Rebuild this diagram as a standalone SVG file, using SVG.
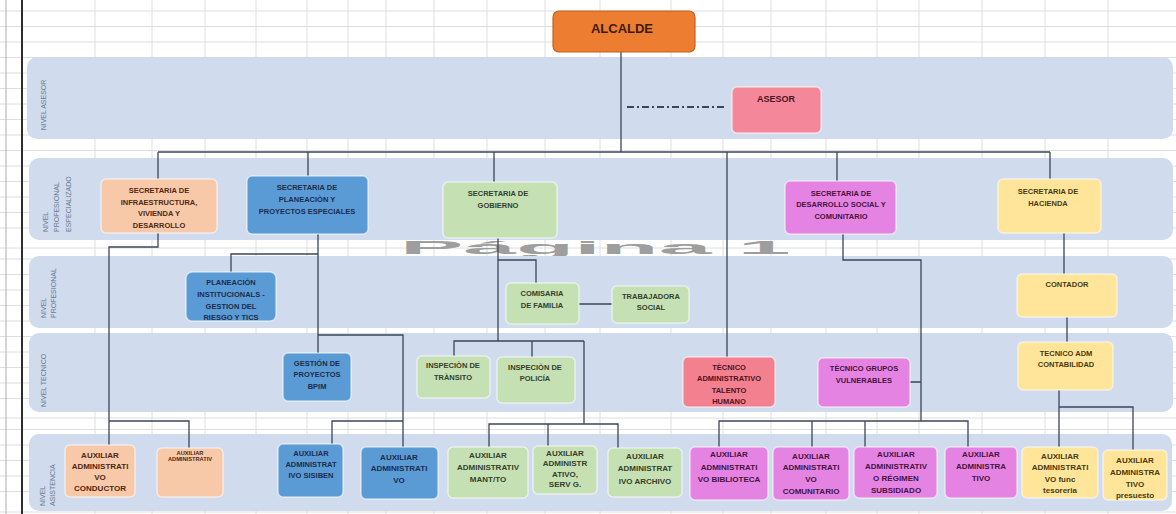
<svg xmlns="http://www.w3.org/2000/svg" width="1176" height="514" viewBox="0 0 1176 514">
<style>
.grid{stroke:#dedede;stroke-width:1;fill:none}
.band{fill:#D0DCED}
.lbl{font-family:"Liberation Sans",Arial,sans-serif;font-size:7px;fill:#6b7a92}
.box{stroke:#ffffff;stroke-opacity:.55;stroke-width:1.5}
.t{font-family:"Liberation Sans",Arial,sans-serif;font-weight:bold;text-anchor:middle}
.s75{font-size:7.5px}
.s8{font-size:8px}
.conn{fill:none;stroke:#3c4659;stroke-width:1.3}
.f-peach{fill:#F8C9A9}.c-peach{fill:#4d2812}
.f-blue{fill:#5B9BD5}.c-blue{fill:#1b2c4c}
.f-green{fill:#C5E0B3}.c-green{fill:#34402c}
.f-mag{fill:#E583E3}.c-mag{fill:#45133f}
.f-yel{fill:#FFE599}.c-yel{fill:#4b3a10}
.f-rose{fill:#F4889A}.c-rose{fill:#4d1422}
</style>
<defs>
<clipPath id="gap"><rect x="380" y="240" width="420" height="16"/></clipPath>
</defs>
<rect width="1176" height="514" fill="#ffffff"/>
<g id="grid">
<path class="grid" d="M0 11H1176M0 26.5H1176M0 42H1176M0 57.5H1176M0 73H1176M0 88.5H1176M0 104H1176M0 119.5H1176M0 135H1176M0 150.5H1176M0 166H1176M0 181.5H1176M0 197H1176M0 212.5H1176M0 228H1176M0 248H1176M0 259H1176M0 274.5H1176M0 290H1176M0 305.5H1176M0 321H1176M0 336.5H1176M0 352H1176M0 367.5H1176M0 383H1176M0 398.5H1176M0 418H1176M0 429.5H1176M0 445H1176M0 460.5H1176M0 476H1176M0 491.5H1176M0 512H1176"/>
<path class="grid" d="M95 0V514M152 0V514M205 0V514M256 0V514M307 0V514M348 0V514M386 0V514M434 0V514M487 0V514M545 0V514M600 0V514M671 0V514M723 0V514M771 0V514M826 0V514M877 0V514M919 0V514M982 0V514M1045 0V514M1108 0V514"/>
<path d="M6 0V514" stroke="#bdbdbd" stroke-width="1.2"/>
<path d="M22 0V514" stroke="#2e2e2e" stroke-width="2"/>
</g>
<g id="watermark" clip-path="url(#gap)">
<text transform="translate(400,254) scale(1,0.2)" x="0" y="0" font-family="Liberation Sans, Arial, sans-serif" font-weight="bold" font-size="95" fill="#9e9e9e">Página 1</text>
</g>
<g id="bands">
<rect class="band" x="27" y="57" width="1146" height="82" rx="10"/>
<rect class="band" x="29" y="158" width="1144" height="82" rx="10"/>
<rect class="band" x="29" y="256" width="1144" height="72" rx="10"/>
<rect class="band" x="29" y="333" width="1144" height="79" rx="10"/>
<rect class="band" x="29" y="434" width="1143" height="77" rx="10"/>
<text class="lbl" x="46" y="105" text-anchor="middle" transform="rotate(-90 46 105)">NIVEL ASESOR</text>
<text class="lbl" x="47.5" y="232" transform="rotate(-90 47.5 232)">NIVEL</text>
<text class="lbl" x="59" y="232" transform="rotate(-90 59 232)">PROFESIONAL</text>
<text class="lbl" x="70.5" y="232" transform="rotate(-90 70.5 232)">ESPECIALIZADO</text>
<text class="lbl" x="45.5" y="318" transform="rotate(-90 45.5 318)">NIVEL</text>
<text class="lbl" x="55.5" y="318" transform="rotate(-90 55.5 318)">PROFESIONAL</text>
<text class="lbl" x="45.5" y="407" transform="rotate(-90 45.5 407)">NIVEL TECNICO</text>
<text class="lbl" x="44.5" y="506" transform="rotate(-90 44.5 506)">NIVEL</text>
<text class="lbl" x="54.5" y="506" transform="rotate(-90 54.5 506)">ASISTENCIA</text>
</g>
<g id="connectors">
<path class="conn" d="M621 52V152M158 152H1050M158 152V179M308 152V176M494 152V182M727 152V357M837 152V181M1050 152V179"/>
<path d="M627 107H726" fill="none" stroke="#3c4659" stroke-width="2.2" stroke-dasharray="7 3 2 3"/>
<path class="conn" d="M158 233V247H109V445M109 421H189V448"/>
<path class="conn" d="M318 234V353M231 272V254H318M318 335H403V447M332 444V421H403"/>
<path class="conn" d="M498 238V341M498 260H536V283M579 304H612M454 356V341H584M532 341V357M584 341V424M489 447V424H618V448M548 424V446"/>
<path class="conn" d="M843 234V260H921V421M910 382H921M719 447V421H968V447M812 421V447M865 421V447"/>
<path class="conn" d="M1064 233V274M1067 317V342M1059 390V447M1059 407H1133V450"/>
</g>
<g id="alcalde"><rect x="553" y="11" width="142" height="41" rx="6" fill="#ED7D31" stroke="#C0641F" stroke-width="1.2"/><text class="t" x="622" y="32.5" font-size="13" fill="#3a1c0a">ALCALDE</text></g>
<g id="asesor"><rect class="box f-rose" x="732" y="87" width="89" height="46" rx="5"/><text class="t c-rose" x="776" y="102" font-size="9">ASESOR</text></g>
<g id="sec-infraestructura"><rect class="box f-peach" x="101" y="179" width="116" height="54" rx="5"/><text class="t s75 c-peach"><tspan x="159" y="193">SECRETARIA DE</tspan><tspan x="159" y="205">INFRAESTRUCTURA,</tspan><tspan x="159" y="216">VIVIENDA Y</tspan><tspan x="159" y="228">DESARROLLO</tspan></text></g>
<g id="sec-planeacion"><rect class="box f-blue" x="247" y="176" width="121" height="58" rx="5"/><text class="t s75 c-blue"><tspan x="307" y="190">SECRETARIA DE</tspan><tspan x="307" y="202">PLANEACIÒN Y</tspan><tspan x="307" y="214">PROYECTOS ESPECIALES</tspan></text></g>
<g id="sec-gobierno"><rect class="box f-green" x="443" y="182" width="114" height="56" rx="5"/><text class="t s75 c-green"><tspan x="498" y="196">SECRETARIA DE</tspan><tspan x="498" y="208">GOBIERNO</tspan></text></g>
<g id="sec-desarrollo"><rect class="box f-mag" x="785" y="181" width="111" height="53" rx="5"/><text class="t s75 c-mag"><tspan x="841" y="196">SECRETARIA DE</tspan><tspan x="841" y="207">DESARROLLO SOCIAL Y</tspan><tspan x="841" y="219">COMUNITARIO</tspan></text></g>
<g id="sec-hacienda"><rect class="box f-yel" x="998" y="179" width="103" height="54" rx="5"/><text class="t s75 c-yel"><tspan x="1048" y="194">SECRETARIA DE</tspan><tspan x="1048" y="206">HACIENDA</tspan></text></g>
<g id="planeacion-inst"><rect class="box f-blue" x="186" y="272" width="90" height="49" rx="6"/><text class="t s75 c-blue"><tspan x="231" y="285">PLANEACIÒN</tspan><tspan x="231" y="297">INSTITUCIONALS -</tspan><tspan x="231" y="309">GESTION DEL</tspan><tspan x="231" y="320">RIESGO Y TICS</tspan></text></g>
<g id="comisaria"><rect class="box f-green" x="506" y="283" width="73" height="41" rx="5"/><text class="t s75 c-green"><tspan x="542" y="296">COMISARIA</tspan><tspan x="542" y="308">DE FAMILIA</tspan></text></g>
<g id="trabajadora"><rect class="box f-green" x="612" y="286" width="77" height="37" rx="5"/><text class="t s75 c-green"><tspan x="651" y="299">TRABAJADORA</tspan><tspan x="651" y="310">SOCIAL</tspan></text></g>
<g id="contador"><rect class="box f-yel" x="1017" y="274" width="100" height="43" rx="5"/><text class="t s75 c-yel" x="1067" y="287">CONTADOR</text></g>
<g id="gestion-proyectos"><rect class="box f-blue" x="283" y="353" width="68" height="48" rx="5"/><text class="t s75 c-blue"><tspan x="317" y="366">GESTIÓN DE</tspan><tspan x="317" y="377">PROYECTOS</tspan><tspan x="317" y="389">BPIM</tspan></text></g>
<g id="inspeccion-transito"><rect class="box f-green" x="417" y="356" width="73" height="42" rx="5"/><text class="t s75 c-green"><tspan x="453" y="368">INSPECIÒN DE</tspan><tspan x="453" y="380">TRÀNSITO</tspan></text></g>
<g id="inspeccion-policia"><rect class="box f-green" x="497" y="357" width="78" height="46" rx="5"/><text class="t s75 c-green"><tspan x="535" y="370">INSPECIÒN DE</tspan><tspan x="535" y="381">POLICÍA</tspan></text></g>
<g id="tecnico-talento"><rect class="box" fill="#F2808F" x="683" y="357" width="92" height="50" rx="5"/><text class="t s75 c-rose"><tspan x="729" y="370">TÈCNICO</tspan><tspan x="729" y="381">ADMINISTRATIVO</tspan><tspan x="729" y="393">TALENTO</tspan><tspan x="729" y="404">HUMANO</tspan></text></g>
<g id="tecnico-grupos"><rect class="box f-mag" x="818" y="358" width="92" height="49" rx="5"/><text class="t s75 c-mag"><tspan x="864" y="371">TÈCNICO GRUPOS</tspan><tspan x="864" y="383">VULNERABLES</tspan></text></g>
<g id="tecnico-contabilidad"><rect class="box f-yel" x="1018" y="342" width="95" height="48" rx="5"/><text class="t s75 c-yel"><tspan x="1066" y="356">TECNICO ADM</tspan><tspan x="1066" y="367">CONTABILIDAD</tspan></text></g>
<g id="aux-conductor"><rect class="box f-peach" x="65" y="445" width="70" height="52" rx="5"/><text class="t s8 c-peach"><tspan x="100" y="458">AUXILIAR</tspan><tspan x="100" y="469">ADMINISTRATI</tspan><tspan x="100" y="480">VO</tspan><tspan x="100" y="491">CONDUCTOR</tspan></text></g>
<g id="aux-infra"><rect class="box f-peach" x="157" y="448" width="66" height="49" rx="5"/><text class="t c-peach" font-size="5.7"><tspan x="190" y="455">AUXILIAR</tspan><tspan x="190" y="461">ADMINISTRATIV</tspan></text></g>
<g id="aux-sisiben"><rect class="box f-blue" x="278" y="444" width="65" height="53" rx="5"/><text class="t s75 c-blue"><tspan x="311" y="456">AUXILIAR</tspan><tspan x="311" y="467">ADMINISTRAT</tspan><tspan x="311" y="478">IVO SISIBEN</tspan></text></g>
<g id="aux-planeacion"><rect class="box f-blue" x="361" y="447" width="77" height="52" rx="5"/><text class="t s8 c-blue"><tspan x="399" y="460">AUXILIAR</tspan><tspan x="399" y="471">ADMINISTRATI</tspan><tspan x="399" y="483">VO</tspan></text></g>
<g id="aux-mantto"><rect class="box f-green" x="448" y="447" width="80" height="51" rx="5"/><text class="t s8 c-green"><tspan x="488" y="458">AUXILIAR</tspan><tspan x="488" y="470">ADMINISTRATIV</tspan><tspan x="488" y="482">MANT/TO</tspan></text></g>
<g id="aux-servg"><rect class="box f-green" x="533" y="446" width="64" height="48" rx="5"/><text class="t s8 c-green"><tspan x="565" y="456">AUXILIAR</tspan><tspan x="565" y="466">ADMINISTR</tspan><tspan x="565" y="477">ATIVO,</tspan><tspan x="565" y="487">SERV G.</tspan></text></g>
<g id="aux-archivo"><rect class="box f-green" x="608" y="448" width="74" height="49" rx="5"/><text class="t s8 c-green"><tspan x="645" y="459">AUXILIAR</tspan><tspan x="645" y="471">ADMINISTRAT</tspan><tspan x="645" y="484">IVO ARCHIVO</tspan></text></g>
<g id="aux-biblioteca"><rect class="box f-mag" x="690" y="447" width="78" height="53" rx="5"/><text class="t s8 c-mag"><tspan x="729" y="457">AUXILIAR</tspan><tspan x="729" y="470">ADMINISTRATI</tspan><tspan x="729" y="482">VO BIBLIOTECA</tspan></text></g>
<g id="aux-comunitario"><rect class="box f-mag" x="773" y="447" width="76" height="53" rx="5"/><text class="t s8 c-mag"><tspan x="811" y="459">AUXILIAR</tspan><tspan x="811" y="470">ADMINISTRATI</tspan><tspan x="811" y="482">VO</tspan><tspan x="811" y="494">COMUNITARIO</tspan></text></g>
<g id="aux-regimen"><rect class="box f-mag" x="854" y="447" width="83" height="51" rx="5"/><text class="t s8 c-mag"><tspan x="896" y="457">AUXILIAR</tspan><tspan x="896" y="469">ADMINISTRATIV</tspan><tspan x="896" y="481">O RÉGIMEN</tspan><tspan x="896" y="493">SUBSIDIADO</tspan></text></g>
<g id="aux-administrativo"><rect class="box f-mag" x="945" y="447" width="72" height="51" rx="5"/><text class="t s8 c-mag"><tspan x="981" y="457">AUXILIAR</tspan><tspan x="981" y="469">ADMINISTRA</tspan><tspan x="981" y="481">TIVO</tspan></text></g>
<g id="aux-tesoreria"><rect class="box f-yel" x="1022" y="447" width="76" height="51" rx="5"/><text class="t s8 c-yel"><tspan x="1060" y="459">AUXILIAR</tspan><tspan x="1060" y="470">ADMINISTRATI</tspan><tspan x="1060" y="482">VO func</tspan><tspan x="1060" y="493">tesoreria</tspan></text></g>
<g id="aux-presupuesto"><rect class="box f-yel" x="1103" y="450" width="64" height="50" rx="5"/><text class="t s8 c-yel"><tspan x="1135" y="463">AUXILIAR</tspan><tspan x="1135" y="475">ADMINISTRA</tspan><tspan x="1135" y="487">TIVO</tspan><tspan x="1135" y="498">presuesto</tspan></text></g>
</svg>
